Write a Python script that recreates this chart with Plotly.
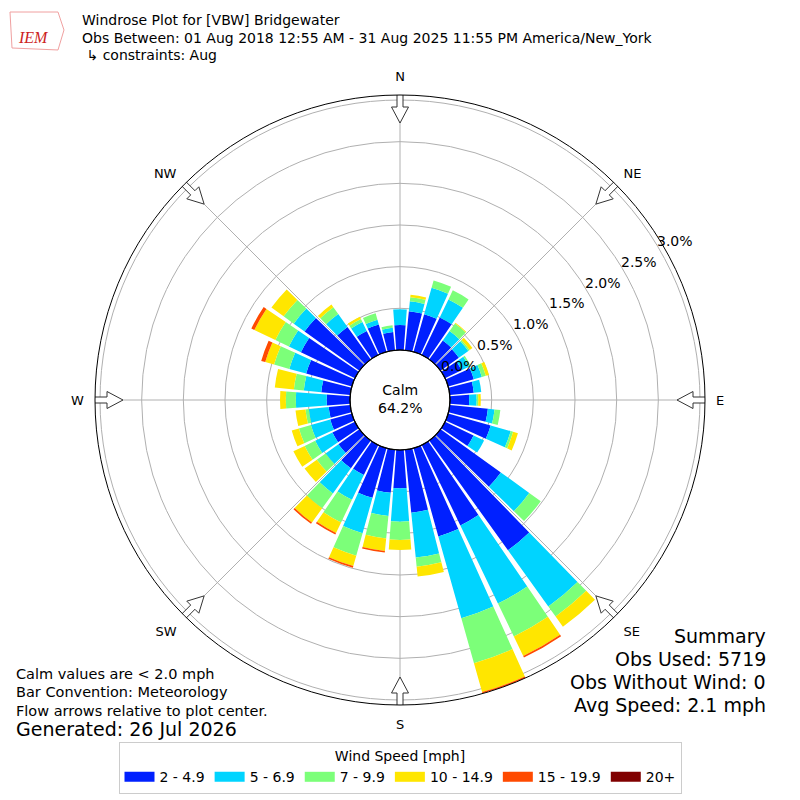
import numpy as np
import plotly.graph_objects as go

# --- data (percent of all obs, per 10 deg bin) ---
directions = list(range(0, 360, 10))
speed_bins = ["2 - 4.9", "5 - 6.9", "7 - 9.9", "10 - 14.9", "15 - 19.9", "20+"]
bin_colors = ["#0020ff", "#00d4ff", "#7cff79", "#ffe600", "#ff4a00", "#800000"]

pct_2_5 = [0.30, 0.47, 0.47, 0.50, 0.28, 0.27, 0.22, 0.32, 0.29, 0.23, 0.46, 0.53,
           0.38, 0.89, 1.62, 1.07, 1.10, 0.76, 0.46, 0.52, 0.62, 0.40, 0.41, 0.31,
           0.30, 0.27, 0.26, 0.28, 0.35, 0.57, 0.72, 0.81, 0.48, 0.32, 0.34, 0.22]
pct_5_7 = [0.19, 0.12, 0.33, 0.24, 0.14, 0.14, 0.10, 0.10, 0.09, 0.09, 0.08, 0.25,
           0.14, 0.42, 0.83, 1.04, 1.02, 0.54, 0.40, 0.28, 0.44, 0.33, 0.37, 0.19,
           0.23, 0.24, 0.24, 0.37, 0.21, 0.21, 0.16, 0.16, 0.19, 0.12, 0.06, 0.05]
pct_7_10 = [0.00, 0.05, 0.09, 0.12, 0.11, 0.02, 0.02, 0.05, 0.00, 0.02, 0.07, 0.03,
            0.00, 0.17, 0.15, 0.44, 0.56, 0.11, 0.22, 0.27, 0.28, 0.30, 0.22, 0.13,
            0.14, 0.15, 0.04, 0.12, 0.12, 0.19, 0.18, 0.15, 0.10, 0.04, 0.08, 0.03]
pct_10_15 = [0.00, 0.03, 0.00, 0.00, 0.01, 0.04, 0.00, 0.04, 0.00, 0.03, 0.00, 0.06,
             0.00, 0.00, 0.15, 0.26, 0.36, 0.12, 0.12, 0.15, 0.13, 0.14, 0.21, 0.18,
             0.15, 0.09, 0.12, 0.07, 0.23, 0.11, 0.28, 0.18, 0.04, 0.03, 0.00, 0.00]
pct_15_20 = [0, 0, 0, 0, 0, 0, 0, 0, 0, 0, 0, 0,
             0, 0, 0, 0.02, 0.02, 0, 0, 0.02, 0.02, 0.02, 0.02, 0,
             0, 0, 0, 0, 0, 0.05, 0.04, 0, 0, 0, 0, 0]
pct_20 = [0, 0, 0, 0, 0, 0, 0, 0, 0, 0, 0, 0,
          0, 0, 0, 0, 0, 0, 0, 0, 0, 0, 0, 0,
          0, 0, 0, 0, 0, 0, 0, 0, 0, 0, 0, 0]

calm_pct = 64.2
rticks = [0.0, 0.5, 1.0, 1.5, 2.0, 2.5, 3.0]
compass = ["N", "NE", "E", "SE", "S", "SW", "W", "NW"]
compass_deg = [0, 45, 90, 135, 180, 225, 270, 315]

RMAX = 3.06
R_PX, HOLE_PX = 305.0, 50.0          # outer radius / calm circle in pixels
K = (R_PX - HOLE_PX) / RMAX          # px per percent
OFF = 8                              # page body margin
W = 800 - OFF
CX = CY = 400                        # rose centre in page px


def P(px, py):
    return (px - OFF) / W, 1 - (py - OFF) / W


fig = go.Figure()

for name, vals, col in zip(speed_bins,
                           [pct_2_5, pct_5_7, pct_7_10, pct_10_15, pct_15_20, pct_20],
                           bin_colors):
    fig.add_trace(go.Barpolar(r=vals, theta=directions, width=8.6, name=name,
                              marker=dict(color=col, line=dict(width=0)),
                              hoverinfo="skip", showlegend=False))
    # legend swatch (wide rectangle like the original)
    fig.add_trace(go.Scatterpolar(r=[None], theta=[None], mode="lines", name=name,
                                  line=dict(color=col, width=11), hoverinfo="skip"))

# flow arrows at compass points (drawn in px then mapped to polar)
arrow_px = [(307, -3), (293, -3), (293, -8.5), (277, 0), (293, 8.5), (293, 3), (307, 3), (307, -3)]
for a in compass_deg:
    rr, tt = [], []
    for d, v in arrow_px:
        rr.append((np.hypot(d, v) - HOLE_PX) / K)
        tt.append(a + np.degrees(np.arctan2(v, d)))
    fig.add_trace(go.Scatterpolar(r=rr, theta=tt, mode="lines", fill="toself",
                                  fillcolor="white", line=dict(color="#333333", width=1),
                                  cliponaxis=False, hoverinfo="skip", showlegend=False))

d0, d1 = P(CX - R_PX, CY + R_PX)[0], P(CX + R_PX, CY)[0]
yd0, yd1 = P(0, CY + R_PX)[1], P(0, CY - R_PX)[1]
fig.update_layout(
    width=W, height=W,
    margin=dict(l=0, r=0, t=0, b=0),
    paper_bgcolor="white",
    font=dict(family="DejaVu Sans", color="black"),
    polar=dict(
        domain=dict(x=[d0, d1], y=[yd0, yd1]),
        hole=HOLE_PX / R_PX,
        bgcolor="white",
        barmode="stack",
        radialaxis=dict(range=[0, RMAX], tickvals=rticks, showticklabels=False,
                        ticks="", showline=False, gridcolor="#b0b0b0", gridwidth=1,
                        layer="above traces"),
        angularaxis=dict(rotation=90, direction="clockwise", tickvals=compass_deg,
                         ticktext=compass, showline=True, linecolor="black", linewidth=1,
                         gridcolor="#b0b0b0", gridwidth=1, ticks="outside", ticklen=8,
                         tickcolor="rgba(0,0,0,0)", tickfont=dict(size=13),
                         layer="above traces"),
    ),
    legend=dict(orientation="h", x=P(400, 0)[0], xanchor="center", y=P(0, 742)[1],
                yanchor="top", traceorder="normal", bordercolor="#cccccc", borderwidth=1,
                font=dict(size=14), itemwidth=30,
                title=dict(text="Wind Speed [mph]", side="top center", font=dict(size=14))),
    showlegend=True,
)

# calm circle outline
x0, y0 = P(CX - HOLE_PX, CY + HOLE_PX)
x1, y1 = P(CX + HOLE_PX, CY - HOLE_PX)
fig.add_shape(type="circle", xref="paper", yref="paper", x0=x0, x1=x1, y0=y0, y1=y1,
              line=dict(color="black", width=1.2), layer="above")


def note(txt, px, py, size=14, anchor="left", **kw):
    x, y = P(px, py)
    fig.add_annotation(text=txt, x=x, y=y, xref="paper", yref="paper",
                       xanchor=anchor, yanchor="middle", showarrow=False,
                       font=dict(size=size, **kw))


# radial tick labels along the 60 deg ray, just outside each ring
for t in rticks:
    rp = HOLE_PX + t * K + 18
    note(f"{t:.1f}%", CX + rp * np.sin(np.radians(60)), CY - rp * np.cos(np.radians(60)),
         size=14, anchor="center")

note(f"Calm<br>{calm_pct:.1f}%", CX, CY - 1, size=14, anchor="center")

note("Windrose Plot for [VBW] Bridgewater", 80, 20)
note("Obs Between: 01 Aug 2018 12:55 AM - 31 Aug 2025 11:55 PM America/New_York", 80, 38)
note(" ↳ constraints: Aug", 80, 55)

note("Calm values are &lt; 2.0 mph", 14, 674, size=14.5)
note("Bar Convention: Meteorology", 14, 692, size=14.5)
note("Flow arrows relative to plot center.", 14, 711, size=14.5)
note("Generated: 26 Jul 2026", 14, 729, size=19)

note("Summary", 768, 636, size=19, anchor="right")
note("Obs Used: 5719", 768, 659, size=19, anchor="right")
note("Obs Without Wind: 0", 768, 682, size=19, anchor="right")
note("Avg Speed: 2.1 mph", 768, 705, size=19, anchor="right")

# IEM logo stand-in
pts = [(10, 12), (58, 12), (64, 30), (58, 50), (12, 48)]
path = "M " + " L ".join("%f %f" % P(a, b) for a, b in pts) + " Z"
fig.add_shape(type="path", xref="paper", yref="paper", path=path,
              line=dict(color="#f0a0a0", width=1))
note("<i>IEM</i>", 33, 38, size=16, anchor="center", color="#cc2222",
     family="Liberation Serif")

fig.write_html("out.html")
